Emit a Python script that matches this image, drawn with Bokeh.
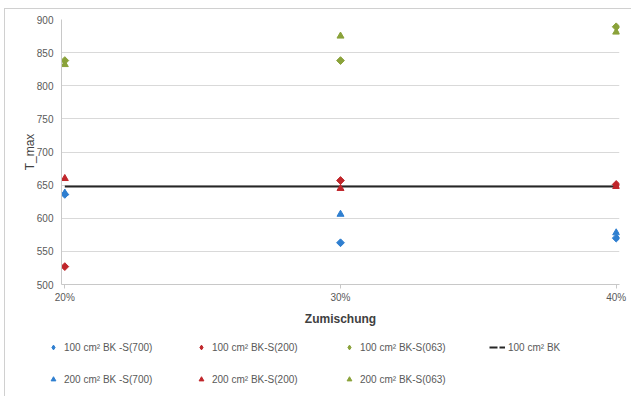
import math
from bokeh.plotting import figure
from bokeh.layouts import column
from bokeh.models import FixedTicker, Legend, LegendItem, Range1d
from bokeh.embed import file_html
from bokeh.resources import INLINE

x_vals = [20, 30, 40]
x_labels = {20: "20%", 30: "30%", 40: "40%"}

s700_100 = [636, 563, 570]
s200_100 = [527, 657, 651]
s063_100 = [838, 838, 889]
bk_100 = [648, 648, 648]
s700_200 = [638, 606, 578]
s200_200 = [660, 645, 648]
s063_200 = [832, 875, 881]

BLUE = "#2f7fd0"
RED = "#c0262b"
GREEN = "#8aa23a"
TXT = "#595959"
FONT = "Liberation Sans"
ROT = math.pi / 4

p = figure(width=626, height=319, output_backend="svg", toolbar_location=None,
           x_range=Range1d(19.88, 40.12), y_range=Range1d(500, 900),
           min_border_left=56, min_border_right=12, min_border_top=10, min_border_bottom=40)
p.frame_align = False
p.outline_line_color = None
p.background_fill_color = "white"

p.xaxis.ticker = FixedTicker(ticks=x_vals)
p.xaxis.major_label_overrides = x_labels
p.yaxis.ticker = FixedTicker(ticks=list(range(500, 901, 50)))
p.xgrid.grid_line_color = None
p.ygrid.grid_line_color = "#d9d9d9"
p.ygrid.grid_line_width = 1

for ax in (p.xaxis, p.yaxis):
    ax.axis_line_color = "#c8c8c8"
    ax.major_tick_line_color = "#c8c8c8"
    ax.minor_tick_line_color = None
    ax.major_label_text_color = TXT
    ax.major_label_text_font = FONT
    ax.major_label_text_font_size = "10px"
    ax.axis_label_text_font = FONT
    ax.axis_label_text_color = "#404040"
p.xaxis.major_tick_in = 0
p.xaxis.major_tick_out = 4
p.yaxis.major_tick_in = 0
p.yaxis.major_tick_out = 0
p.yaxis.major_label_standoff = 8
p.yaxis.axis_label = "T_max"
p.yaxis.axis_label_text_font_size = "12px"
p.yaxis.axis_label_text_font_style = "normal"
p.yaxis.axis_label_standoff = -3
p.xaxis.axis_label = "Zumischung"
p.xaxis.axis_label_text_font_size = "12px"
p.xaxis.axis_label_text_font_style = "bold"
p.xaxis.axis_label_standoff = 6
p.xaxis.major_label_standoff = 3

p.line(x_vals, bk_100, line_color="#262626", line_width=2)
p.scatter(x_vals, s700_100, marker="square", angle=ROT, size=5.5, color=BLUE)
p.scatter(x_vals, s200_100, marker="square", angle=ROT, size=5.5, color=RED)
p.scatter(x_vals, s063_100, marker="square", angle=ROT, size=5.5, color=GREEN)
p.scatter(x_vals, s700_200, marker="triangle", size=7, color=BLUE)
p.scatter(x_vals, s200_200, marker="triangle", size=7, color=RED)
p.scatter(x_vals, s063_200, marker="triangle", size=7, color=GREEN)

# legend figure below the chart (dummy renderers out of view carry the legend glyphs)
q = figure(width=626, height=68, output_backend="svg", toolbar_location=None,
           x_range=Range1d(0, 1), y_range=Range1d(0, 1),
           x_axis_location=None, y_axis_location=None,
           min_border_left=0, min_border_right=0, min_border_top=0, min_border_bottom=0)
q.frame_align = False
q.outline_line_color = None
q.xgrid.grid_line_color = None
q.ygrid.grid_line_color = None
OUT = [-5]
l1 = q.scatter(OUT, OUT, marker="diamond", size=7, color=BLUE)
l2 = q.scatter(OUT, OUT, marker="diamond", size=7, color=RED)
l3 = q.scatter(OUT, OUT, marker="diamond", size=7, color=GREEN)
l4 = q.line([-5, -4], [-5, -5], line_color="#262626", line_width=2, line_dash="8 2")
l5 = q.scatter(OUT, OUT, marker="triangle", size=7, color=BLUE)
l6 = q.scatter(OUT, OUT, marker="triangle", size=7, color=RED)
l7 = q.scatter(OUT, OUT, marker="triangle", size=7, color=GREEN)

def mk_legend(items, loc):
    return Legend(items=items, orientation="horizontal", location=loc,
                  label_text_font=FONT, label_text_font_size="10px", label_text_color=TXT,
                  glyph_width=16, glyph_height=12, label_standoff=3, label_width=128,
                  spacing=1, padding=0, margin=0, border_line_color=None,
                  background_fill_alpha=0, label_height=12)

lg1 = mk_legend([
    LegendItem(label="100 cm² BK -S(700)", renderers=[l1]),
    LegendItem(label="100 cm² BK-S(200)", renderers=[l2]),
    LegendItem(label="100 cm² BK-S(063)", renderers=[l3]),
    LegendItem(label="100 cm² BK", renderers=[l4]),
], (40, 43))
lg2 = mk_legend([
    LegendItem(label="200 cm² BK -S(700)", renderers=[l5]),
    LegendItem(label="200 cm² BK-S(200)", renderers=[l6]),
    LegendItem(label="200 cm² BK-S(063)", renderers=[l7]),
], (40, 11))
q.add_layout(lg1)
q.add_layout(lg2)

layout = column(p, q, spacing=0)
layout.styles = {"border-left": "1px solid #d0d0d0", "border-top": "1px solid #d0d0d0",
                 "margin-left": "4px", "margin-top": "8px"}

open("out.html", "w").write(file_html(layout, INLINE))
